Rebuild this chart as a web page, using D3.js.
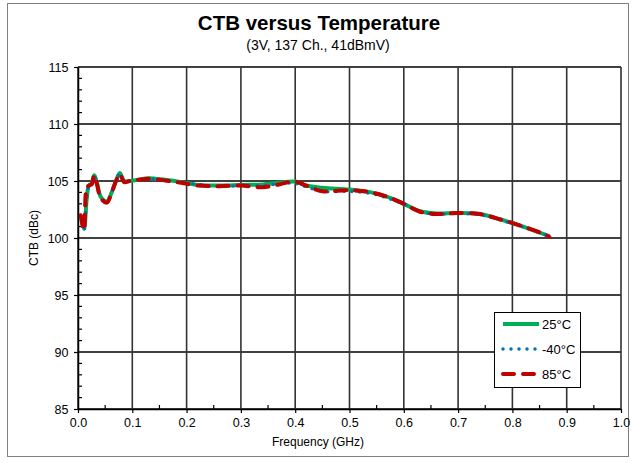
<!DOCTYPE html>
<html><head><meta charset="utf-8">
<script src="https://cdn.jsdelivr.net/npm/d3@7"></script>
<style>body{margin:0;background:#fff}svg{display:block;font-family:"Liberation Sans",Arial,sans-serif}</style>
</head><body><svg id="c" width="636" height="463"></svg>
<script>
const freq = [0.005,0.011,0.016,0.020,0.025,0.030,0.035,0.042,0.053,0.062,0.070,0.077,0.085,0.095,0.11,0.13,0.16,0.19,0.22,0.26,0.30,0.34,0.37,0.40,0.42,0.45,0.50,0.54,0.57,0.60,0.63,0.66,0.70,0.74,0.78,0.82,0.86,0.868];
const t25 = [102.0,100.8,103.4,104.6,104.8,105.5,104.8,103.6,103.2,104.0,105.0,105.7,105.0,105.0,105.1,105.25,105.1,104.9,104.65,104.6,104.65,104.7,104.85,104.95,104.6,104.4,104.25,104.0,103.6,103.0,102.35,102.15,102.2,102.1,101.6,101.0,100.3,100.15];
const tm40 = [101.9,100.7,103.3,104.6,104.8,105.4,104.8,103.6,103.2,104.0,105.0,105.6,105.0,105.0,105.1,105.2,105.05,104.85,104.7,104.5,104.6,104.6,104.75,104.8,104.5,104.1,104.1,103.9,103.5,103.0,102.3,102.1,102.15,102.05,101.55,100.95,100.3,100.15];
const t85 = [102.0,100.7,104.4,104.6,104.7,105.5,104.7,103.5,103.1,104.0,105.0,105.6,104.9,105.0,105.1,105.2,105.05,104.85,104.6,104.55,104.6,104.45,104.7,104.95,104.6,104.1,104.2,104.0,103.6,103.0,102.3,102.1,102.2,102.1,101.6,101.0,100.3,100.1];
const xTicks = [0,0.1,0.2,0.3,0.4,0.5,0.6,0.7,0.8,0.9,1.0];
const yTicks = [85,90,95,100,105,110,115];
const seriesNames = ["25°C","-40°C","85°C"];

const svg = d3.select("#c");
const L=78, R=621, T=67, B=409;
const x = d3.scaleLinear().domain([0,1]).range([L,R]);
const y = d3.scaleLinear().domain([85,115]).range([B,T]);

svg.append("rect").attr("x",7.5).attr("y",3.5).attr("width",621).attr("height",453)
  .attr("fill","none").attr("stroke","#808080").attr("stroke-width",1);

svg.append("text").attr("x",319).attr("y",30).attr("text-anchor","middle")
  .attr("font-size",20.5).attr("font-weight","bold").text("CTB versus Temperature");
svg.append("text").attr("x",318).attr("y",50).attr("text-anchor","middle")
  .attr("font-size",14).text("(3V, 137 Ch., 41dBmV)");

// grid
svg.append("g").selectAll("line").data(yTicks).join("line")
  .attr("x1",L).attr("x2",R).attr("y1",d=>y(d)).attr("y2",d=>y(d))
  .attr("stroke","#000").attr("stroke-width",1.5);
svg.append("g").selectAll("line").data(xTicks).join("line")
  .attr("y1",T).attr("y2",B).attr("x1",d=>x(d)).attr("x2",d=>x(d))
  .attr("stroke","#333").attr("stroke-width",1.6);

// axes
const xAxis = svg.append("g").attr("transform",`translate(0,${B})`)
  .call(d3.axisBottom(x).tickValues(xTicks).tickFormat(d3.format(".1f")).tickSize(4).tickSizeOuter(0));
const yAxis = svg.append("g").attr("transform",`translate(${L},0)`)
  .call(d3.axisLeft(y).tickValues(yTicks).tickFormat(d3.format("d")).tickSize(4).tickSizeOuter(0));
[xAxis,yAxis].forEach(a=>{
  a.select(".domain").attr("stroke","#000").attr("stroke-width",1.5);
  a.selectAll(".tick line").attr("stroke","#000").attr("stroke-width",1.2);
  a.selectAll(".tick text").attr("font-size",12.5).attr("fill","#000").attr("font-family","Liberation Sans, Arial, sans-serif");
});
xAxis.selectAll(".tick text").attr("dy","0.9em");
yAxis.selectAll(".tick text").attr("dx","-0.2em");
// minor ticks
svg.append("g").selectAll("line").data(d3.range(85,115,1).filter(v=>v%5)).join("line")
  .attr("x1",L).attr("x2",L+4).attr("y1",d=>y(d)).attr("y2",d=>y(d)).attr("stroke","#000").attr("stroke-width",1.2);
svg.append("g").selectAll("line").data(d3.range(0.05,1,0.1)).join("line")
  .attr("y1",B).attr("y2",B-4).attr("x1",d=>x(d)).attr("x2",d=>x(d)).attr("stroke","#000").attr("stroke-width",1.2);

svg.append("text").attr("x",318).attr("y",446).attr("text-anchor","middle").attr("font-size",12).text("Frequency (GHz)");
svg.append("text").attr("transform",`translate(38,${(T+B)/2}) rotate(-90)`).attr("text-anchor","middle")
  .attr("font-size",12).text("CTB (dBc)");

const line = d3.line().x(d=>x(d[0])).y(d=>y(d[1])).curve(d3.curveCatmullRom.alpha(0.5));
const styles = [
  {c:"#00b050",w:4,dash:null,cap:"butt"},
  {c:"#0070c0",w:3.5,dash:"0,8",cap:"round"},
  {c:"#c00000",w:4,dash:"11,9",cap:"round"}
];
[t25,tm40,t85].forEach((vals,i)=>{
  const s=styles[i];
  svg.append("path").datum(freq.map((f,j)=>[f,vals[j]])).attr("d",line)
    .attr("fill","none").attr("stroke",s.c).attr("stroke-width",s.w)
    .attr("stroke-dasharray",s.dash).attr("stroke-linecap",s.cap).attr("stroke-linejoin","round");
});

// legend
const lg = svg.append("g");
lg.append("rect").attr("x",494.5).attr("y",312.5).attr("width",86).attr("height",75)
  .attr("fill","#fff").attr("stroke","#000").attr("stroke-width",1);
seriesNames.forEach((n,i)=>{
  const s=styles[i], yy=324+i*25;
  lg.append("line").attr("x1",503).attr("x2",539).attr("y1",yy).attr("y2",yy)
    .attr("stroke",s.c).attr("stroke-width",s.w).attr("stroke-dasharray",s.dash).attr("stroke-linecap",s.cap);
  lg.append("text").attr("x",542).attr("y",yy+4.5).attr("font-size",13).text(n);
});
</script></body></html>
